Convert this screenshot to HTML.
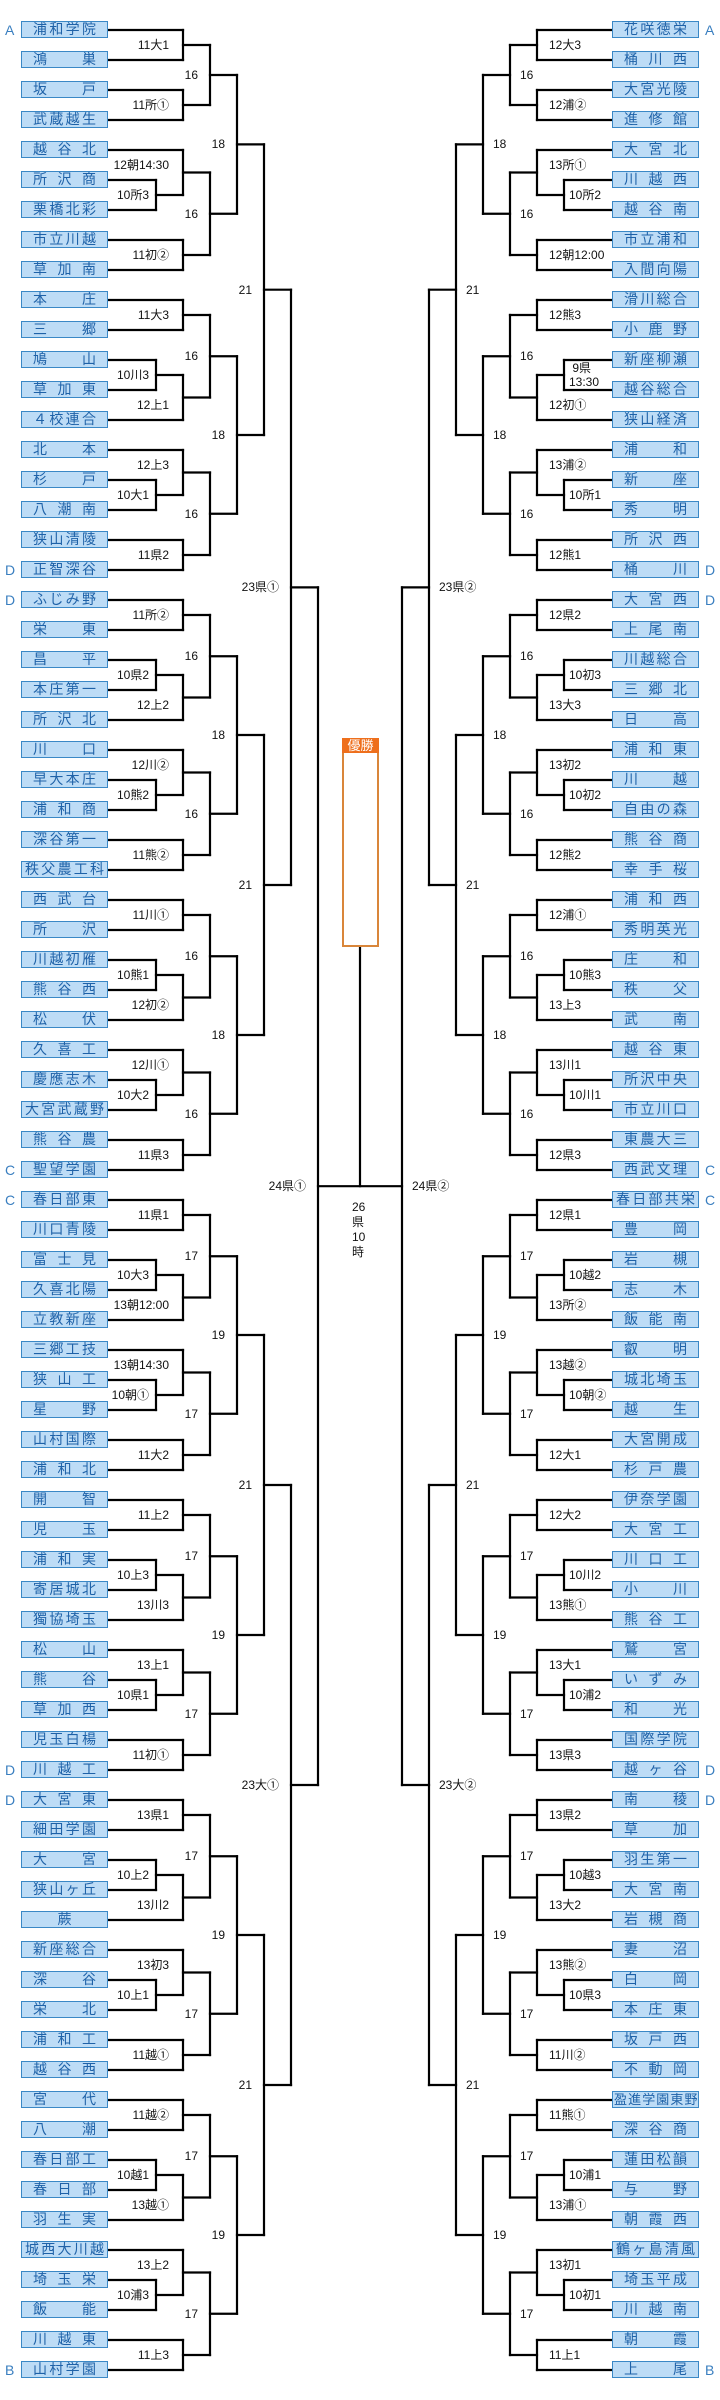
<!DOCTYPE html>
<html><head><meta charset="utf-8">
<style>
html,body{margin:0;padding:0;background:#fff;}
#wrap{position:relative;width:720px;height:2400px;overflow:hidden;background:#fff;font-family:"Liberation Sans","Noto Sans CJK JP",sans-serif;}
.box{position:absolute;width:87px;height:17px;background:#bddcf6;border:1px solid #3a88c6;display:flex;justify-content:space-between;align-items:center;box-sizing:border-box;padding:0 11px;font-size:14px;color:#1f62a8;line-height:17px;}
.box.n5{padding:0 3px;}
.box.n6{padding:0 1px;font-size:13px;letter-spacing:-0.5px;}
.box.n1{justify-content:center;}
.lb{position:absolute;font-size:12px;color:#111;line-height:14px;white-space:nowrap;}
.gl{position:absolute;font-size:14px;color:#3a7fc0;line-height:16px;}
svg{position:absolute;left:0;top:0;}
</style></head><body>
<div id="wrap">
<svg id="sv" width="720" height="2400"></svg>
<div style="position:absolute;left:342px;top:738px;width:37px;height:209px;box-sizing:border-box;border:2px solid #d9863a;background:#fff;"></div>
<div style="position:absolute;left:342px;top:738px;width:37px;height:15px;background:#ee6f1c;color:#fff;font-size:13px;line-height:15px;text-align:center;">優勝</div>
<div class="lb" style="left:352px;top:1200px;line-height:15px;text-align:left;">26<br>県<br>10<br>時</div>
</div>
<script>
var W=document.getElementById('wrap'),S=document.getElementById('sv');
var NS='http://www.w3.org/2000/svg';
function ln(x1,y1,x2,y2){var l=document.createElementNS(NS,'line');l.setAttribute('x1',x1);l.setAttribute('y1',y1);l.setAttribute('x2',x2);l.setAttribute('y2',y2);l.setAttribute('stroke','#000');l.setAttribute('stroke-width','2.2');l.setAttribute('stroke-linecap','square');S.appendChild(l);}
function lab(t,x,y,side){var d=document.createElement('div');d.className='lb';d.innerHTML=t;var lines=t.split('<br>').length;d.style.top=(y-7*lines)+'px';if(side<0){d.style.right=(720-x)+'px';d.style.textAlign='right';}else{d.style.left=x+'px';}W.appendChild(d);}
var COL=[156,183,210,237,264,291,318];
function M(a,b,t){return {c:[a,b],t:t};}
function draw(n,ci,side){
 var X=function(x){return side<0?x:720-x;};
 if(typeof n==='number'){return {y:n*30,x:X(108),leaf:true,r:n};}
 var a=draw(n.c[0],ci-1,side),b=draw(n.c[1],ci-1,side);
 var cx=X(COL[ci]);
 ln(a.x,a.y,cx,a.y);ln(b.x,b.y,cx,b.y);ln(cx,a.y,cx,b.y);
 var mid=(a.y+b.y)/2,ly=mid,off;
 if(ci==0){off=7;}
 else if(ci==1){off=14;
   if(a.leaf&&!b.leaf)ly=(a.r+0.5)*30;
   else if(!a.leaf&&b.leaf)ly=(b.r-0.5)*30;}
 else off=12;
 if(n.t){ if(side<0)lab(n.t,cx-off,ly,-1); else lab(n.t,cx+off-2,ly,1);}
 return {y:mid,x:cx,leaf:false};
}
function T(a,b,l){return M(a,b,l);}
var left=T(
 T(
  T(T(T(M(1,2,'11大1'),M(3,4,'11所①'),'16'),T(M(5,M(6,7,'10所3'),'12朝14:30'),M(8,9,'11初②'),'16'),'18'),
    T(T(M(10,11,'11大3'),M(M(12,13,'10川3'),14,'12上1'),'16'),T(M(15,M(16,17,'10大1'),'12上3'),M(18,19,'11県2'),'16'),'18'),'21'),
  T(T(T(M(20,21,'11所②'),M(M(22,23,'10県2'),24,'12上2'),'16'),T(M(25,M(26,27,'10熊2'),'12川②'),M(28,29,'11熊②'),'16'),'18'),
    T(T(M(30,31,'11川①'),M(M(32,33,'10熊1'),34,'12初②'),'16'),T(M(35,M(36,37,'10大2'),'12川①'),M(38,39,'11県3'),'16'),'18'),'21'),
 '23県①'),
 T(
  T(T(T(M(40,41,'11県1'),M(M(42,43,'10大3'),44,'13朝12:00'),'17'),T(M(45,M(46,47,'10朝①'),'13朝14:30'),M(48,49,'11大2'),'17'),'19'),
    T(T(M(50,51,'11上2'),M(M(52,53,'10上3'),54,'13川3'),'17'),T(M(55,M(56,57,'10県1'),'13上1'),M(58,59,'11初①'),'17'),'19'),'21'),
  T(T(T(M(60,61,'13県1'),M(M(62,63,'10上2'),64,'13川2'),'17'),T(M(65,M(66,67,'10上1'),'13初3'),M(68,69,'11越①'),'17'),'19'),
    T(T(M(70,71,'11越②'),M(M(72,73,'10越1'),74,'13越①'),'17'),T(M(75,M(76,77,'10浦3'),'13上2'),M(78,79,'11上3'),'17'),'19'),'21'),
 '23大①'),
'24県①');
var right=T(
 T(
  T(T(T(M(1,2,'12大3'),M(3,4,'12浦②'),'16'),T(M(5,M(6,7,'10所2'),'13所①'),M(8,9,'12朝12:00'),'16'),'18'),
    T(T(M(10,11,'12熊3'),M(M(12,13,'&nbsp;9県<br>13:30'),14,'12初①'),'16'),T(M(15,M(16,17,'10所1'),'13浦②'),M(18,19,'12熊1'),'16'),'18'),'21'),
  T(T(T(M(20,21,'12県2'),M(M(22,23,'10初3'),24,'13大3'),'16'),T(M(25,M(26,27,'10初2'),'13初2'),M(28,29,'12熊2'),'16'),'18'),
    T(T(M(30,31,'12浦①'),M(M(32,33,'10熊3'),34,'13上3'),'16'),T(M(35,M(36,37,'10川1'),'13川1'),M(38,39,'12県3'),'16'),'18'),'21'),
 '23県②'),
 T(
  T(T(T(M(40,41,'12県1'),M(M(42,43,'10越2'),44,'13所②'),'17'),T(M(45,M(46,47,'10朝②'),'13越②'),M(48,49,'12大1'),'17'),'19'),
    T(T(M(50,51,'12大2'),M(M(52,53,'10川2'),54,'13熊①'),'17'),T(M(55,M(56,57,'10浦2'),'13大1'),M(58,59,'13県3'),'17'),'19'),'21'),
  T(T(T(M(60,61,'13県2'),M(M(62,63,'10越3'),64,'13大2'),'17'),T(M(65,M(66,67,'10県3'),'13熊②'),M(68,69,'11川②'),'17'),'19'),
    T(T(M(70,71,'11熊①'),M(M(72,73,'10浦1'),74,'13浦①'),'17'),T(M(75,M(76,77,'10初1'),'13初1'),M(78,79,'11上1'),'17'),'19'),'21'),
 '23大②'),
'24県②');
var rl=draw(left,6,-1),rr=draw(right,6,1);
ln(318,rl.y,402,rl.y);ln(360,947,360,rl.y);
var LT="浦和学院 鴻巣 坂戸 武蔵越生 越谷北 所沢商 栗橋北彩 市立川越 草加南 本庄 三郷 鳩山 草加東 ４校連合 北本 杉戸 八潮南 狭山清陵 正智深谷 ふじみ野 栄東 昌平 本庄第一 所沢北 川口 早大本庄 浦和商 深谷第一 秩父農工科 西武台 所沢 川越初雁 熊谷西 松伏 久喜工 慶應志木 大宮武蔵野 熊谷農 聖望学園 春日部東 川口青陵 富士見 久喜北陽 立教新座 三郷工技 狭山工 星野 山村国際 浦和北 開智 児玉 浦和実 寄居城北 獨協埼玉 松山 熊谷 草加西 児玉白楊 川越工 大宮東 細田学園 大宮 狭山ヶ丘 蕨 新座総合 深谷 栄北 浦和工 越谷西 宮代 八潮 春日部工 春日部 羽生実 城西大川越 埼玉栄 飯能 川越東 山村学園".split(' ');
var RT="花咲徳栄 桶川西 大宮光陵 進修館 大宮北 川越西 越谷南 市立浦和 入間向陽 滑川総合 小鹿野 新座柳瀬 越谷総合 狭山経済 浦和 新座 秀明 所沢西 桶川 大宮西 上尾南 川越総合 三郷北 日高 浦和東 川越 自由の森 熊谷商 幸手桜 浦和西 秀明英光 庄和 秩父 武南 越谷東 所沢中央 市立川口 東農大三 西武文理 春日部共栄 豊岡 岩槻 志木 飯能南 叡明 城北埼玉 越生 大宮開成 杉戸農 伊奈学園 大宮工 川口工 小川 熊谷工 鷲宮 いずみ 和光 国際学院 越ヶ谷 南稜 草加 羽生第一 大宮南 岩槻商 妻沼 白岡 本庄東 坂戸西 不動岡 盈進学園東野 深谷商 蓮田松韻 与野 朝霞西 鶴ヶ島清風 埼玉平成 川越南 朝霞 上尾".split(' ');
function box(name,x,y){var d=document.createElement('div');var ch=Array.from(name);d.className='box n'+Math.min(ch.length,6);if(ch.length==5)d.className='box n5';d.style.left=x+'px';d.style.top=(y-9)+'px';ch.forEach(function(c){var s=document.createElement('span');s.textContent=c;d.appendChild(s);});W.appendChild(d);}
for(var i=0;i<79;i++){box(LT[i],21,(i+1)*30);box(RT[i],612,(i+1)*30);}
var G={1:'A',19:'D',20:'D',39:'C',40:'C',59:'D',60:'D',79:'B'};
for(var r in G){var g=document.createElement('div');g.className='gl';g.textContent=G[r];g.style.left='5px';g.style.top=(r*30-8)+'px';W.appendChild(g);
var g2=document.createElement('div');g2.className='gl';g2.textContent=G[r];g2.style.left='705px';g2.style.top=(r*30-8)+'px';W.appendChild(g2);}
</script>
</body></html>
